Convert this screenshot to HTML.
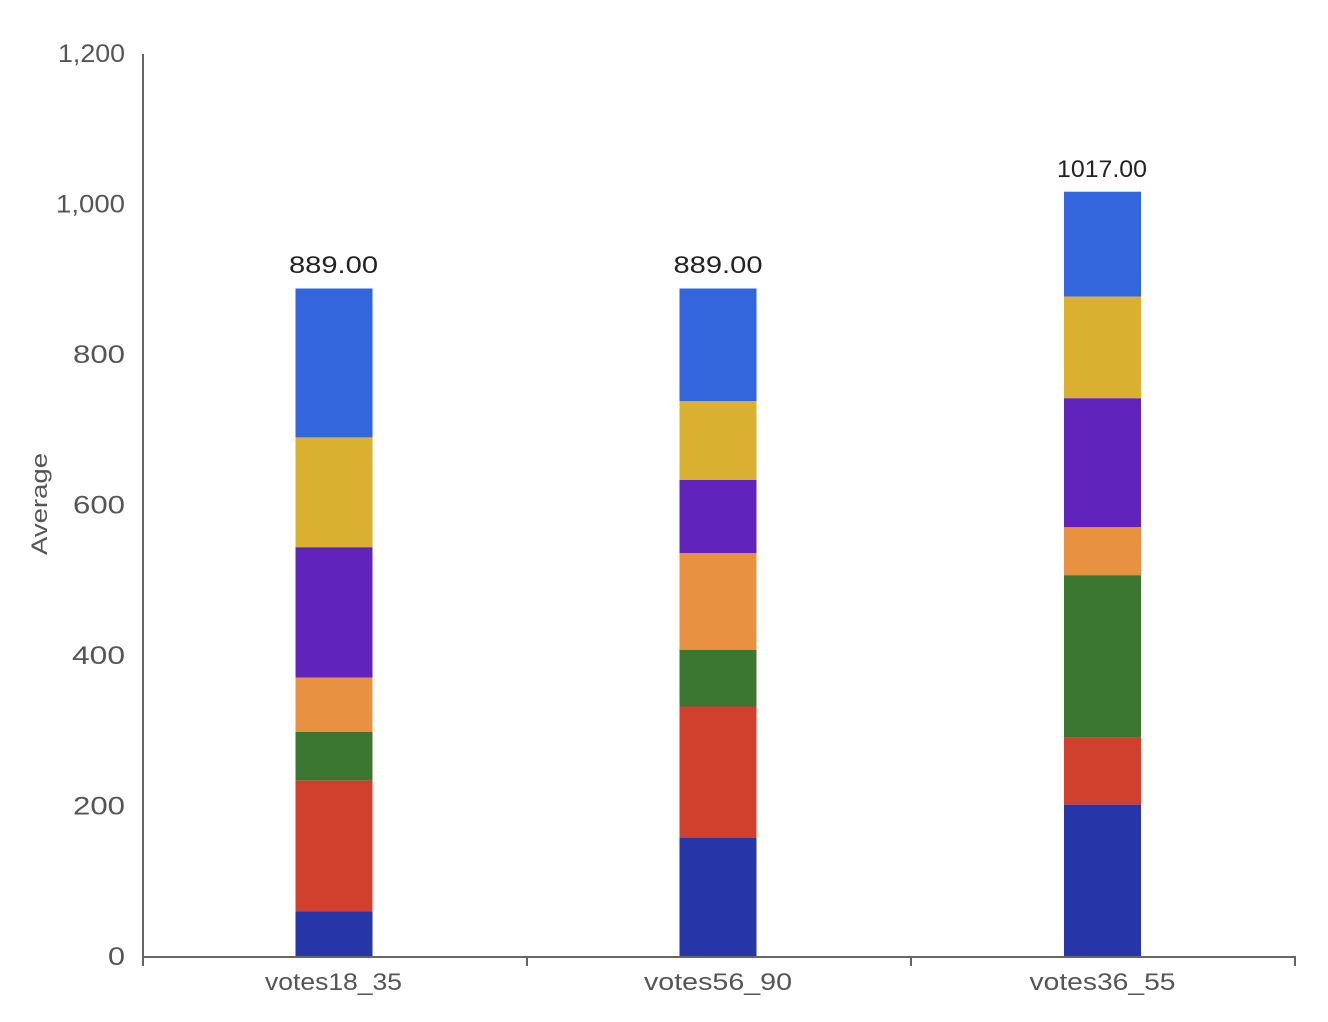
<!DOCTYPE html>
<html><head><meta charset="utf-8"><style>
html,body{margin:0;padding:0;background:#fff;}
svg{display:block;}
text{font-family:"Liberation Sans",sans-serif;}
</style></head><body>
<svg width="1328" height="1022" viewBox="0 0 1328 1022" xmlns="http://www.w3.org/2000/svg">
<rect width="1328" height="1022" fill="#fff"/>
<!-- bar1 -->
<g>
<rect x="295.5" y="288.5" width="77" height="149" fill="#3366dd"/>
<rect x="295.5" y="437.3" width="77" height="110" fill="#d9b030"/>
<rect x="295.5" y="547.3" width="77" height="130.4" fill="#6024bc"/>
<rect x="295.5" y="677.7" width="77" height="54.3" fill="#e89140"/>
<rect x="295.5" y="732" width="77" height="48.7" fill="#3c7732"/>
<rect x="295.5" y="780.7" width="77" height="130.6" fill="#d0402c"/>
<rect x="295.5" y="911.3" width="77" height="45.4" fill="#2636a8"/>
</g>
<!-- bar2 -->
<g>
<rect x="679.5" y="288.5" width="77" height="112.5" fill="#3366dd"/>
<rect x="679.5" y="401" width="77" height="79" fill="#d9b030"/>
<rect x="679.5" y="480" width="77" height="73" fill="#6024bc"/>
<rect x="679.5" y="553" width="77" height="97" fill="#e89140"/>
<rect x="679.5" y="650" width="77" height="56.5" fill="#3c7732"/>
<rect x="679.5" y="706.5" width="77" height="131.5" fill="#d0402c"/>
<rect x="679.5" y="838" width="77" height="118.7" fill="#2636a8"/>
</g>
<!-- bar3 -->
<g>
<rect x="1064" y="191.7" width="77" height="105" fill="#3366dd"/>
<rect x="1064" y="296.7" width="77" height="101.6" fill="#d9b030"/>
<rect x="1064" y="398.3" width="77" height="129" fill="#6024bc"/>
<rect x="1064" y="527.3" width="77" height="47.9" fill="#e89140"/>
<rect x="1064" y="575.2" width="77" height="162.2" fill="#3c7732"/>
<rect x="1064" y="737.4" width="77" height="67.3" fill="#d0402c"/>
<rect x="1064" y="804.7" width="77" height="152" fill="#2636a8"/>
</g>
<!-- axes -->
<line x1="143" y1="54" x2="143" y2="957" stroke="#666" stroke-width="2"/>
<line x1="142" y1="957" x2="1296" y2="957" stroke="#666" stroke-width="2"/>
<line x1="143" y1="956" x2="143" y2="966" stroke="#666" stroke-width="2"/>
<line x1="527" y1="956" x2="527" y2="966" stroke="#666" stroke-width="2"/>
<line x1="911" y1="956" x2="911" y2="966" stroke="#666" stroke-width="2"/>
<line x1="1295" y1="956" x2="1295" y2="966" stroke="#666" stroke-width="2"/>
<!-- y tick labels -->
<g fill="#555" font-size="25" text-anchor="end">
<text x="125" y="62" textLength="67" lengthAdjust="spacingAndGlyphs">1,200</text>
<text x="125" y="212.5" textLength="69" lengthAdjust="spacingAndGlyphs">1,000</text>
<text x="125" y="363" textLength="52" lengthAdjust="spacingAndGlyphs">800</text>
<text x="125" y="513.5" textLength="52" lengthAdjust="spacingAndGlyphs">600</text>
<text x="125" y="664" textLength="53" lengthAdjust="spacingAndGlyphs">400</text>
<text x="125" y="814.5" textLength="52" lengthAdjust="spacingAndGlyphs">200</text>
<text x="125" y="965" textLength="17" lengthAdjust="spacingAndGlyphs">0</text>
</g>
<text transform="translate(47,504) rotate(-90)" fill="#555" font-size="22" text-anchor="middle" textLength="102" lengthAdjust="spacingAndGlyphs">Average</text>
<!-- x labels -->
<g fill="#555" font-size="24" text-anchor="middle">
<text x="333.5" y="990" textLength="137" lengthAdjust="spacingAndGlyphs">votes18_35</text>
<text x="718" y="990" textLength="148" lengthAdjust="spacingAndGlyphs">votes56_90</text>
<text x="1102.5" y="990" textLength="146" lengthAdjust="spacingAndGlyphs">votes36_55</text>
</g>
<!-- value labels -->
<g fill="#222" font-size="24" text-anchor="middle">
<text x="333.5" y="273" textLength="89" lengthAdjust="spacingAndGlyphs">889.00</text>
<text x="718" y="273" textLength="89" lengthAdjust="spacingAndGlyphs">889.00</text>
<text x="1102" y="177" textLength="90" lengthAdjust="spacingAndGlyphs">1017.00</text>
</g>
</svg>
</body></html>
